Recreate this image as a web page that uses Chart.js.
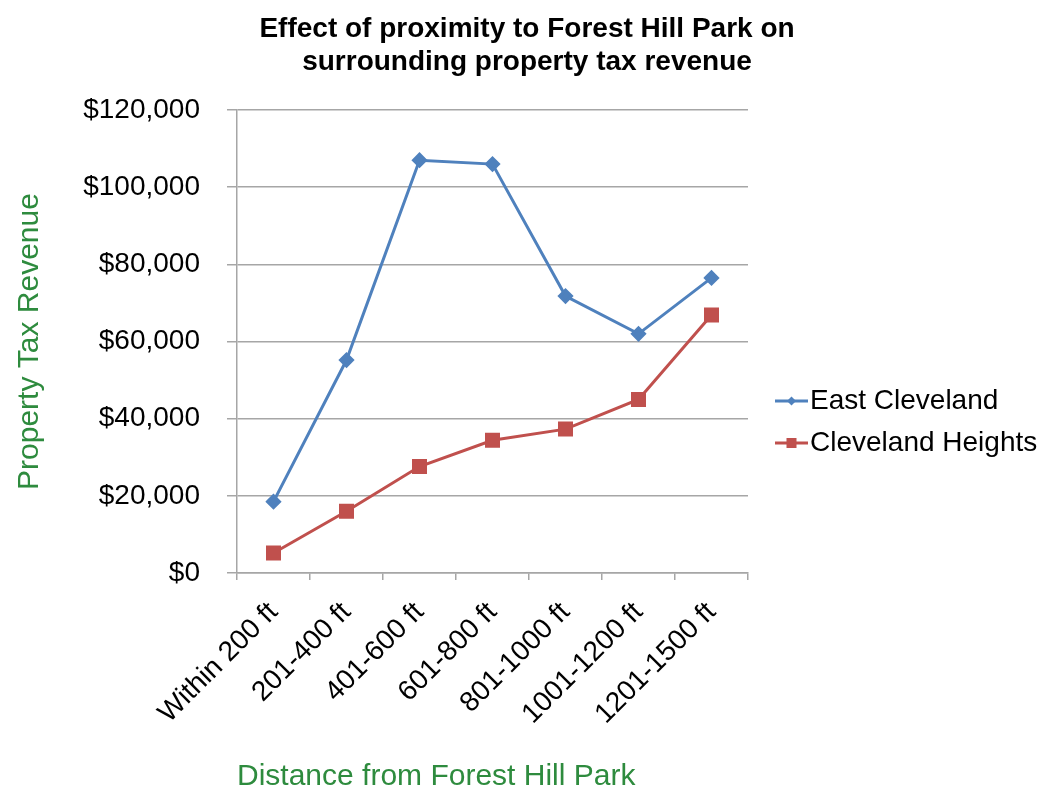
<!DOCTYPE html>
<html>
<head>
<meta charset="utf-8">
<script src="https://cdn.jsdelivr.net/npm/chart.js@4"></script>
<style>
  html, body { margin: 0; padding: 0; background: #fff; }
  #wrap { width: 1044px; height: 792px; }
</style>
</head>
<body>
<div id="wrap"><canvas id="myChart"></canvas></div>
<script>
// === Daten ===
const categories = ['Within 200 ft', '201-400 ft', '401-600 ft', '601-800 ft', '801-1000 ft', '1001-1200 ft', '1201-1500 ft'];
const eastCleveland = [18500, 55200, 107000, 106000, 71800, 62000, 76500];
const clevelandHeights = [5200, 16000, 27600, 34400, 37300, 45000, 66900];
const yTicks = [0, 20000, 40000, 60000, 80000, 100000, 120000];

const blue = '#4f81bd';
const red = '#c0504d';
const green = '#2e8b3e';
const gridColor = '#a6a6a6';

// kleines Legenden-Symbol: Linie mit Marker (links transparent, damit es an der richtigen Stelle sitzt)
function legendIcon(color, style) {
    const c = document.createElement('canvas');
    c.width = 58; c.height = 14;
    const g = c.getContext('2d');
    g.strokeStyle = color;
    g.lineWidth = 3;
    g.beginPath(); g.moveTo(25, 7); g.lineTo(58, 7); g.stroke();
    g.fillStyle = color;
    if (style === 'rectRot') {
        g.beginPath(); g.moveTo(41.5, 2.5); g.lineTo(46, 7); g.lineTo(41.5, 11.5); g.lineTo(37, 7); g.closePath(); g.fill();
    } else {
        g.fillRect(36.5, 2, 10, 10);
    }
    return c;
}

Chart.defaults.font.family = "'Liberation Sans', Arial, sans-serif";
Chart.defaults.color = '#000';

const myChart = new Chart(document.getElementById('myChart'), {
    type: 'line',
    data: {
        labels: categories,
        datasets: [
            {
                label: 'East Cleveland',
                data: eastCleveland,
                borderColor: blue,
                backgroundColor: blue,
                borderWidth: 3,
                pointStyle: 'rectRot',
                pointRadius: 6,
                pointIcon: legendIcon(blue, 'rectRot')
            },
            {
                label: 'Cleveland Heights',
                data: clevelandHeights,
                borderColor: red,
                backgroundColor: red,
                borderWidth: 3,
                pointStyle: 'rect',
                pointRadius: 8.5,
                pointIcon: legendIcon(red, 'rect')
            }
        ]
    },
    options: {
        responsive: true,
        maintainAspectRatio: false,
        animation: false,
        layout: { padding: { left: 10, right: 0, top: 0, bottom: 0 } },
        plugins: {
            title: {
                display: true,
                text: ['Effect of proximity to Forest Hill Park on', 'surrounding property tax revenue'],
                font: { size: 28, weight: 'bold', lineHeight: 1.18 },
                padding: { top: 13, bottom: 31 }
            },
            legend: {
                position: 'right',
                maxWidth: 296,
                title: { display: true, text: ' ', font: { size: 10, lineHeight: 1.2 }, padding: { top: 40, bottom: 0 } },
                labels: {
                    font: { size: 28 },
                    padding: 14,
                    usePointStyle: true,
                    pointStyleWidth: 34,
                    generateLabels(chart) {
                        return chart.data.datasets.map((ds, i) => ({
                            text: ds.label,
                            pointStyle: ds.pointIcon,
                            fillStyle: ds.borderColor,
                            strokeStyle: ds.borderColor,
                            lineWidth: 0,
                            hidden: false,
                            datasetIndex: i
                        }));
                    }
                }
            },
            tooltip: { enabled: false }
        },
        scales: {
            x: {
                offset: true,
                afterFit(scale) { scale.height = 219; },
                grid: { display: true, drawOnChartArea: false, offset: true, tickLength: 7, color: gridColor, lineWidth: 1.5 },
                border: { color: gridColor, width: 1.5 },
                ticks: { font: { size: 28 }, maxRotation: 45, minRotation: 45, padding: 16 },
                title: {
                    display: true,
                    text: 'Distance from Forest Hill Park',
                    color: green,
                    font: { size: 30, lineHeight: 1 },
                    align: 'start',
                    padding: { top: 0, bottom: 0 }
                }
            },
            y: {
                min: 0,
                max: 120000,
                afterBuildTicks(scale) { scale.ticks = yTicks.map(v => ({ value: v })); },
                afterFit(scale) { scale.width = 227; },
                grid: { color: gridColor, lineWidth: 1.5, tickLength: 10 },
                border: { color: gridColor, width: 1.5 },
                ticks: {
                    font: { size: 28 },
                    padding: 27,
                    callback: v => '$' + v.toLocaleString('en-US')
                },
                title: {
                    display: true,
                    text: 'Property Tax Revenue',
                    color: green,
                    font: { size: 30, lineHeight: 1 },
                    padding: { top: 5, bottom: 0 }
                }
            }
        }
    }
});
</script>
</body>
</html>
